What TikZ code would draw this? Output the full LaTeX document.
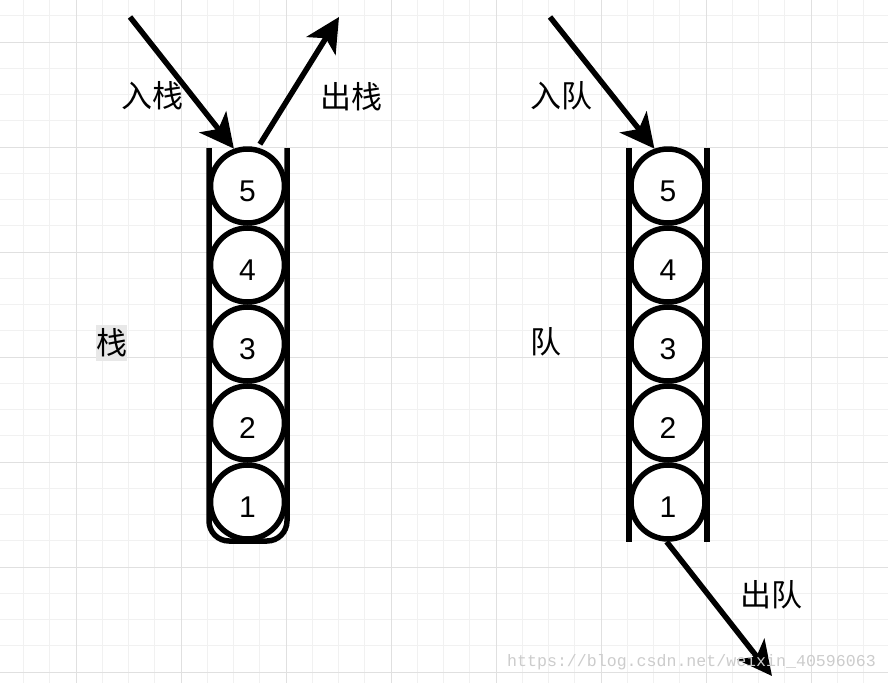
\documentclass[tikz,border=0pt]{standalone}
\usepackage{fontspec}
\setmainfont{Liberation Sans}
\newfontfamily\cjk{Noto Sans CJK SC}
\newfontfamily\wmfont{Liberation Mono}
\usetikzlibrary{arrows.meta}
\definecolor{minorgrid}{HTML}{F1F1F1}
\definecolor{majorgrid}{HTML}{E0E0E0}
\begin{document}
\begin{tikzpicture}[x=1pt,y=-1pt,
  ball/.style={circle,draw=black,fill=white,line width=5.5pt,minimum size=74pt,inner sep=0pt},
  numlbl/.style={font=\fontsize{30}{30}\selectfont,yshift=-5pt,inner sep=0pt},
  wall/.style={line width=5.5pt,draw=black},
  arr/.style={line width=5.5pt,-{Stealth[length=34pt,width=34pt,inset=9pt]}},
  cjklbl/.style={font=\cjk\fontsize{31}{31}\selectfont,inner sep=0pt},
  mgrid/.style={draw=minorgrid,line width=1pt},
  Mgrid/.style={draw=majorgrid,line width=1pt}]
\useasboundingbox (0,0) rectangle (888,683);
\fill[white] (0,0) rectangle (888,683);
% grid
\foreach \k in {-2,...,31} {
  \draw[mgrid] ({76+26.25*\k},0) -- ({76+26.25*\k},683);
}
\foreach \k in {-1,...,24} {
  \draw[mgrid] (0,{42+26.25*\k}) -- (888,{42+26.25*\k});
}
\foreach \k in {0,...,7} {
  \draw[Mgrid] ({76+105*\k},0) -- ({76+105*\k},683);
}
\foreach \k in {0,...,6} {
  \draw[Mgrid] (0,{42+105*\k}) -- (888,{42+105*\k});
}
% stack walls
\draw[wall,rounded corners=20pt] (209,148) -- (209,541) -- (287,541) -- (287,148);
% queue walls
\draw[wall] (629,148) -- (629,542);
\draw[wall] (707,148) -- (707,542);
% stack balls
\foreach \n/\y in {5/186,4/265,3/344,2/423,1/502} {
  \node[ball,label={[numlbl,name=sl\n]center:\n}] (s\n) at (247.5,\y) {};
  \node[ball,label={[numlbl,name=ql\n]center:\n}] (q\n) at (668,\y) {};
}
% labels
\node[cjklbl] (lin) at (152.5,96) {入栈};
\node[cjklbl] (lout) at (351.7,96.5) {出栈};
\node[cjklbl] (lqin) at (561,96) {入队};
\node[cjklbl] (lqout) at (771.7,595) {出队};
\node[cjklbl,fill=black!9,minimum width=31pt,minimum height=36pt] (lstack) at (111.5,343) {栈};
\node[cjklbl] (lqueue) at (546,342) {队};
% arrows
\coordinate (inS) at (130,17);
\coordinate (outS) at (339,17);
\coordinate (inQ) at (550,17);
\coordinate (outQ) at (772,676);
\draw[arr] (inS) -- (s5.110);
\draw[arr,shorten <=4pt] (s5.75) -- (outS);
\draw[arr] (inQ) -- (q5.110);
\draw[arr] (q1.268) -- (outQ);
% watermark
\node[font=\wmfont\fontsize{16.6}{16.6}\selectfont,text=black!20,anchor=west,inner sep=0pt] (wm) at (507,662) {https://blog.csdn.net/weixin\_40596063};
\end{tikzpicture}
\end{document}
